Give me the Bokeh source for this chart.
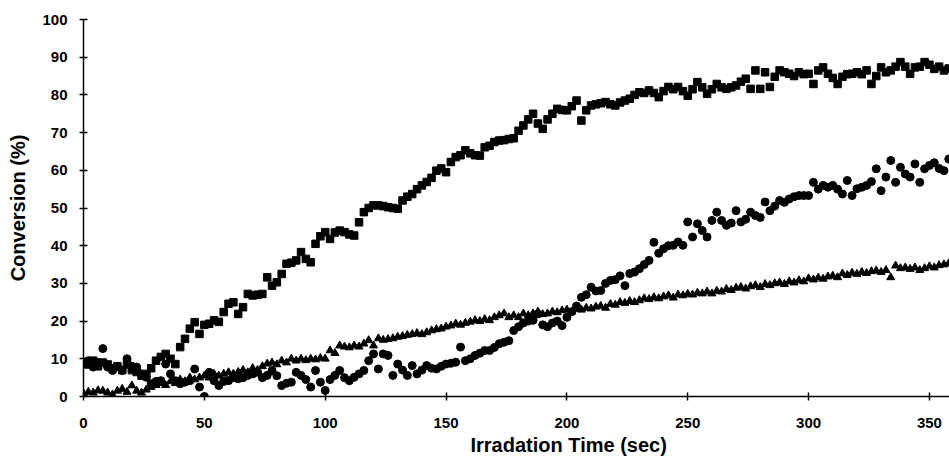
from bokeh.plotting import figure
from bokeh.models import Range1d, FixedTicker, Title
from bokeh.embed import file_html
from bokeh.resources import INLINE

time_sec = list(range(0, 360, 2))

squares = [
    9, 8.5, 9.5, 8, 9, 8.5, 7.5, 8, 7, 8.5,
    7, 6.5, 5.5, 6, 7.5, 9.5, 10.5, 11.3, 10, 8.6,
    13.1, 15.3, 18, 19.7, 16.6, 19, 19.3, 20.2, 19.8, 22.4,
    24.6, 25, 21.9, 23.7, 27.2, 26.8, 27, 27.2, 31.6, 29.4,
    30.3, 32.5, 35.2, 35.5, 36.1, 38.3, 36.5, 35.6, 40.5, 42.5,
    43.6, 41.8, 43.5, 44, 43.6, 43, 42.7, 46.2, 48.9, 50,
    50.7, 50.7, 50.5, 50.2, 50, 49.8, 52, 53, 53.7, 55,
    56, 56.9, 58, 59.9, 60.5, 59.5, 62.2, 63.5, 64, 65.3,
    64.5, 64, 63.9, 66.1, 66.5, 67.5, 67.9, 68, 68.3, 68.5,
    70.5, 71.9, 73.5, 75, 72.4, 71, 73.5, 75, 76.3, 76,
    75.9, 77, 78.5, 73.2, 75.9, 77.2, 77.5, 77.8, 78.1, 77.5,
    77.2, 78, 78.5, 79, 80, 80.7, 80.5, 81.2, 80.5, 79.4,
    81, 82.1, 81.5, 82.1, 81, 79.8, 81.5, 83.4, 82, 80.3,
    81.5, 82.9, 82, 81.6, 82, 82.5, 83.5, 84.3, 81.6, 86.5,
    81.6, 86, 82.1, 84.8, 86.5, 86, 85.6, 85, 86, 85.5,
    85.6, 82.9, 86.5, 87.3, 85.6, 84.5, 82.9, 84.8, 85.5, 85.6,
    86, 85.5, 86.5, 82.9, 85, 87.3, 86, 86.5, 87.5, 88.7,
    87.5, 85.6, 87.3, 87.5, 88.7, 88, 86.9, 87.5, 86.5, 87,
]

circles = [
    8.6, 9.5, 7.8, 9, 12.7, 7.8, 6.9, 8, 6.9, 10,
    8, 7.8, 6, 5.1, 3.4, 4, 4.2, 8.6, 6, 4.2,
    3.4, 3.8, 4.2, 7.3, 2.5, 0, 6.4, 4.2, 2.9, 4,
    4.2, 5, 4.7, 5, 5.6, 6, 6.4, 5, 5.6, 6.9,
    5.5, 2.9, 3.5, 3.8, 6.4, 5.6, 4.5, 2.5, 6.9, 3.8,
    1.6, 4.5, 5.6, 6.9, 5, 4.2, 5.1, 6, 6.9, 9.5,
    11.3, 7.3, 11.3, 10.9, 5.6, 8.6, 7, 5.6, 8.2, 6,
    7, 8.2, 7.5, 7.3, 8, 8.6, 8.8, 9.1, 13.1, 9.5,
    10, 10.9, 11.5, 12.2, 12.2, 13, 14, 14.4, 14.8, 17.5,
    18.5, 19.5, 20, 20.2, 21.9, 19, 18.5, 19.5, 20, 18.8,
    21, 22.5, 24, 26.3, 27, 29, 28, 28.1, 30, 30.8,
    31, 32, 29.4, 32.6, 33, 33.9, 35, 36.1, 40.9, 38,
    39.2, 40, 40.1, 41, 40.1, 46.3, 42.3, 45.8, 44, 42.3,
    46.7, 48.9, 46.7, 45.4, 46, 49.3, 46.3, 47, 48.9, 48,
    47.5, 51.6, 49.3, 50.5, 52, 51.5, 52.4, 53, 53.3, 53.3,
    53.3, 56.8, 55, 56, 55.5, 56, 55, 53.7, 57.3, 53.3,
    55.1, 55.5, 56, 57, 60.4, 54.6, 58.2, 62.6, 56.8, 60.8,
    59, 58.2, 61.7, 56.8, 60.4, 61.3, 62, 60.5, 59.9, 63,
]

triangles = [
    0.8, 1.2, 1, 1.6, 1.5, 1, 0.5, 1.5, 2, 1.2,
    2.9, 1.5, 1, 1.8, 2.5, 3, 3.5, 3, 4, 3.5,
    4.5, 4, 5, 4.5, 5, 5.5, 5, 6, 5.5, 6,
    6.4, 6, 6.5, 7, 6.4, 7.5, 7, 8, 8.7, 9,
    8.5, 9.5, 9, 10, 9.5, 10, 9.6, 10, 9.8, 10.2,
    10, 12.2, 11.5, 13.5, 13.2, 13, 13.5, 13.2, 14, 14.9,
    13.5, 15.4, 15, 15.2, 15.4, 15.8, 16, 16.3, 16.5, 16.8,
    16.5, 17, 17.5, 17.8, 18, 18.5, 18.8, 19.3, 19, 19.5,
    19.8, 20.2, 20, 20.5, 20.2, 21, 21.5, 22, 21, 21.5,
    21, 22, 21.5, 22, 22.5, 21.8, 22, 22.5, 22.3, 22.8,
    23, 22.5, 23.2, 23, 23.5, 23.3, 23.8, 24, 23.5, 24.5,
    24.3, 25, 24.8, 25.3, 25, 25.5, 26, 25.8, 26.3, 26,
    26.5, 26.8, 26.2, 27, 26.8, 27.2, 27, 27.5, 27.3, 27.8,
    27.3, 28, 27.8, 28.5, 28.2, 28.8, 29, 28.6, 29.2, 29.5,
    29, 29.8, 29.5, 30, 30.2, 29.8, 30.5, 30.2, 30.8, 30.5,
    31.3, 31, 31.5, 31.2, 31.8, 32, 31.6, 32.6, 32.2, 32.8,
    32.5, 33, 32.7, 33.2, 33.4, 33, 33.5, 31.6, 34.7, 34,
    34.2, 33.8, 34.2, 33.5, 34, 34.5, 34.2, 34.8, 35, 35.3,
]

x_ticks = [0, 50, 100, 150, 200, 250, 300, 350]
y_ticks = [0, 10, 20, 30, 40, 50, 60, 70, 80, 90, 100]
x_title = "Irradation Time (sec)"
y_title = "Conversion (%)"

FONT = "Liberation Sans"

p = figure(width=949, height=461, output_backend="svg", toolbar_location=None,
           x_range=Range1d(0, 358.3), y_range=Range1d(0, 100),
           min_border_left=83, min_border_right=0, min_border_top=19,
           min_border_bottom=65)
p.outline_line_color = None
p.grid.grid_line_color = None
p.background_fill_color = "white"
p.border_fill_color = "white"

p.scatter(time_sec, triangles, marker="triangle", size=8, color="black")
p.scatter(time_sec, circles, marker="circle", size=8, color="black")
p.scatter(time_sec, squares, marker="square", size=7.5, color="black")

for ax in (p.xaxis[0], p.yaxis[0]):
    ax.axis_line_color = "black"
    ax.axis_line_width = 1.5
    ax.major_tick_line_color = "black"
    ax.major_tick_line_width = 1.5
    ax.major_tick_in = 4
    ax.major_tick_out = 4
    ax.minor_tick_line_color = None
    ax.major_label_text_font = FONT
    ax.major_label_text_font_style = "bold"
    ax.major_label_text_font_size = "15px"
    ax.major_label_text_color = "black"

p.xaxis[0].ticker = FixedTicker(ticks=x_ticks)
p.yaxis[0].ticker = FixedTicker(ticks=y_ticks)
p.xaxis[0].major_label_standoff = 17
p.yaxis[0].major_label_standoff = 12

p.yaxis[0].axis_label = y_title
p.yaxis[0].axis_label_text_font = FONT
p.yaxis[0].axis_label_text_font_style = "bold"
p.yaxis[0].axis_label_text_font_size = "20px"
p.yaxis[0].axis_label_text_color = "black"
p.yaxis[0].axis_label_standoff = 10

p.add_layout(Title(text=x_title, align="left", offset=387, standoff=3,
                   text_font=FONT, text_font_style="bold",
                   text_font_size="20px", text_color="black"), "below")

open("out.html", "w").write(file_html(p, INLINE))
